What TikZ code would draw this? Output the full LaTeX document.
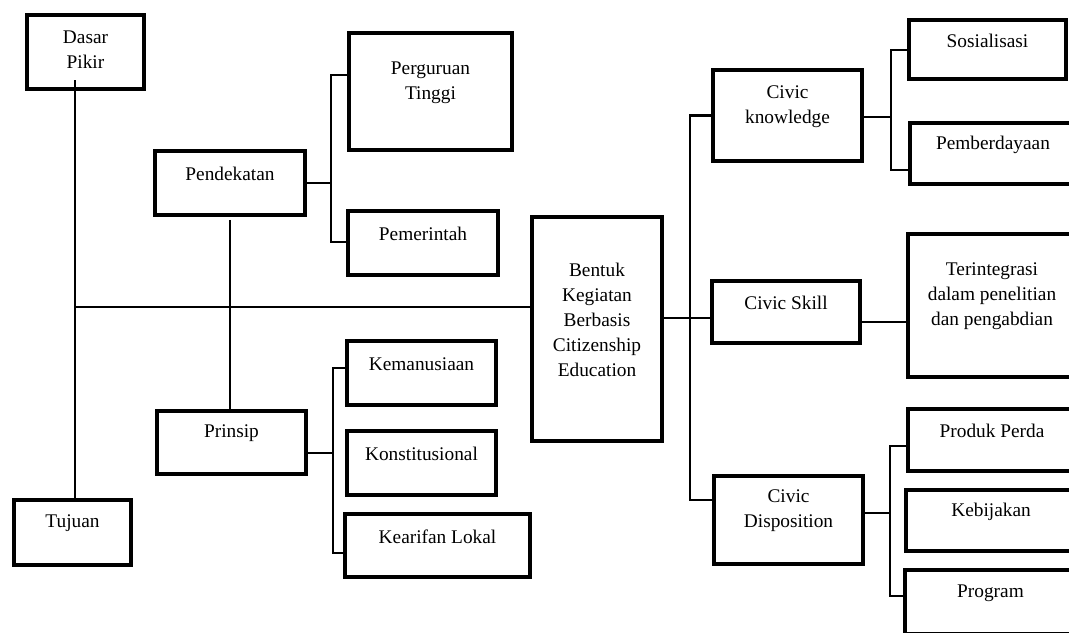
\documentclass[tikz,border=0pt]{standalone}
\usepackage{fontspec}
\setmainfont{Liberation Serif}
\begin{document}
\begin{tikzpicture}[x=0.75pt,y=-0.75pt,
	kotak/.style 2 args={draw, line width=3.2pt, inner sep=0pt, minimum width=#1*0.75pt, minimum height=#2*0.75pt},
	teks/.style={align=center, font=\fontsize{14.5}{18.8}\selectfont, yshift=6.75pt},
	garis/.style={line width=2.1pt}]
	\useasboundingbox (0,0) rectangle (1069,632);
	% sisi kiri
	\node[kotak={117}{74}, label={[teks, yshift=-5pt]center:Dasar\\Pikir}] (dasar) at (85.5,52) {};
	\node[kotak={117}{65}, label={[teks]center:Tujuan}] (tujuan) at (72.5,532.5) {};
	\node[kotak={150}{64}, label={[teks]center:Pendekatan}] (pend) at (230,183) {};
	\node[kotak={149}{63}, label={[teks]center:Prinsip}] (prinsip) at (231.5,442.5) {};
	\node[kotak={163}{117}, label={[teks]center:Perguruan\\Tinggi}] (pt) at (430.5,91.5) {};
	\node[kotak={150}{64}, label={[teks]center:Pemerintah}] (pem) at (423,243) {};
	\node[kotak={149}{64}, label={[teks]center:Kemanusiaan}] (kem) at (421.5,373) {};
	\node[kotak={149}{64}, label={[teks]center:Konstitusional}] (kons) at (421.5,463) {};
	\node[kotak={185}{63}, label={[teks]center:Kearifan Lokal}] (kear) at (437.5,545.5) {};
	% tengah
	\node[kotak={130}{224}, label={[teks]center:Bentuk\\Kegiatan\\Berbasis\\Citizenship\\Education}] (bentuk) at (597,329) {};
	% sisi kanan
	\node[kotak={149}{91}, label={[teks]center:Civic\\knowledge}] (ck) at (787.5,115.5) {};
	\node[kotak={148}{62}, label={[teks]center:Civic Skill}] (cs) at (786,312) {};
	\node[kotak={149}{88}, label={[teks]center:Civic\\Disposition}] (cd) at (788.5,520) {};
	\node[kotak={157}{59}, label={[teks]center:Sosialisasi}] (sos) at (987.5,49.5) {};
	\node[kotak={166}{61}, label={[teks]center:Pemberdayaan}] (pemb) at (993,153.5) {};
	\node[kotak={168}{143}, label={[teks]center:Terintegrasi\\dalam penelitian\\dan pengabdian}] (ter) at (992,305.5) {};
	\node[kotak={168}{62}, label={[teks]center:Produk Perda}] (pp) at (992,440) {};
	\node[kotak={170}{61}, label={[teks]center:Kebijakan}] (keb) at (991,520.5) {};
	\node[kotak={171}{64}, label={[teks]center:Program}] (prog) at (990.5,602) {};

	% garis penghubung
	\coordinate (sumbu) at (75,80);
	\coordinate (tengah) at (75,307);
	\draw[garis] (sumbu) -- (sumbu |- tujuan.north);
	\draw[garis] (tengah) -- (tengah -| bentuk.west);
	\draw[garis] ([yshift=-2pt]pend.south) -- (pend.south |- prinsip.north);
	\draw[garis] (pend.east) -- (pend.east -| 331,0);
	\draw[garis] (pt.west |- 0,75) -- (331,75) -- (331,242) -- (pem.west |- 0,242);
	\draw[garis] (prinsip.east |- 0,453) -- (333,453);
	\draw[garis] (kem.west |- 0,368) -- (333,368) -- (333,553) -- (kear.west |- 0,553);
	\draw[garis] (bentuk.east |- 0,318) -- (cs.west |- 0,318);
	\draw[garis] (ck.west) -- (690,115.5) -- (690,500) -- (cd.west |- 0,500);
	\draw[garis] (ck.east |- 0,117) -- (891,117);
	\draw[garis] (sos.west |- 0,50) -- (891,50) -- (891,170) -- (pemb.west |- 0,170);
	\draw[garis] (cs.east |- 0,322) -- (ter.west |- 0,322);
	\draw[garis] (cd.east |- 0,513) -- (890,513);
	\draw[garis] (pp.west |- 0,446) -- (890,446) -- (890,596) -- (prog.west |- 0,596);
\end{tikzpicture}
\end{document}
